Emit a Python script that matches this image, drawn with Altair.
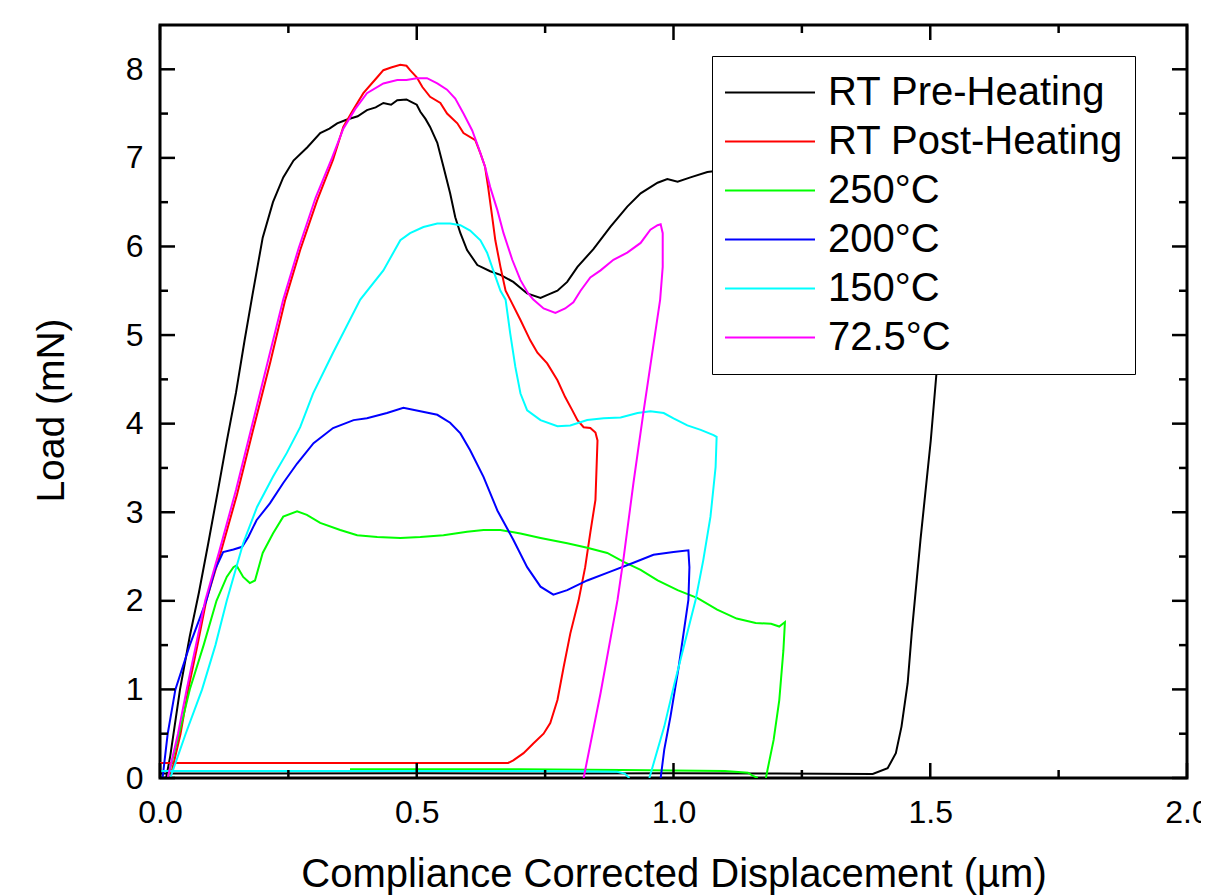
import altair as alt
import pandas as pd

FONT = "Liberation Sans"

series_names = ["RT Pre-Heating", "RT Post-Heating", "250°C", "200°C", "150°C", "72.5°C"]
series_colors = ["#000000", "#ff0000", "#00ff00", "#0000ff", "#00ffff", "#ff00ff"]

# RT Pre-Heating (black): load, unload, baseline
pre_x = [0.012, 0.02, 0.039, 0.058, 0.076, 0.094, 0.113, 0.13, 0.148, 0.165, 0.18, 0.2, 0.22, 0.24,
         0.26, 0.287, 0.312, 0.33, 0.345, 0.363, 0.385, 0.403, 0.42, 0.435, 0.45, 0.462, 0.48, 0.49,
         0.5, 0.507, 0.517, 0.526, 0.54, 0.552, 0.565, 0.575, 0.585, 0.598, 0.618, 0.643, 0.663,
         0.688, 0.715, 0.741, 0.757, 0.774, 0.793, 0.813, 0.844, 0.877, 0.91, 0.936, 0.969, 0.988,
         1.008, 1.033, 1.066, 1.15, 1.3, 1.45, 1.55, 1.546, 1.513, 1.501, 1.481, 1.47, 1.464, 1.456,
         1.444, 1.433, 1.417, 1.388, 1.2, 1.0, 0.8, 0.5, 0.2, 0.0]
pre_y = [0.0, 0.25, 1.0, 1.6, 2.1, 2.65, 3.25, 3.8, 4.35, 4.95, 5.45, 6.1, 6.5, 6.78,
         6.97, 7.12, 7.28, 7.33, 7.39, 7.43, 7.47, 7.54, 7.57, 7.62, 7.6, 7.65, 7.66, 7.63,
         7.6, 7.52, 7.44, 7.35, 7.17, 6.9, 6.6, 6.33, 6.15, 5.96, 5.79, 5.72, 5.68,
         5.6, 5.47, 5.42, 5.46, 5.5, 5.6, 5.77, 5.97, 6.22, 6.45, 6.6, 6.72, 6.76,
         6.73, 6.78, 6.84, 6.9, 6.95, 7.0, 7.02, 6.75, 4.63, 3.81, 2.69, 2.01, 1.64, 1.07,
         0.58, 0.28, 0.11, 0.045, 0.05, 0.055, 0.05, 0.055, 0.05, 0.05]

# RT Post-Heating (red)
post_x = [0.02, 0.04, 0.055, 0.073, 0.09, 0.117, 0.15, 0.18, 0.215, 0.244, 0.273, 0.306, 0.337,
          0.357, 0.376, 0.396, 0.423, 0.435, 0.45, 0.468, 0.48, 0.487, 0.5, 0.511, 0.526, 0.546,
          0.559, 0.579, 0.591, 0.614, 0.624, 0.633, 0.639, 0.647, 0.653, 0.663, 0.673, 0.682,
          0.702, 0.721, 0.735, 0.754, 0.774, 0.789, 0.803, 0.813, 0.825, 0.838, 0.848,
          0.852, 0.848, 0.838, 0.828, 0.815, 0.799, 0.786, 0.774, 0.76, 0.747, 0.727, 0.708,
          0.688, 0.678, 0.4, 0.0]
post_y = [0.0, 0.5, 1.0, 1.5, 2.0, 2.52, 3.2, 3.9, 4.7, 5.4, 5.96, 6.52, 6.98,
          7.35, 7.54, 7.73, 7.91, 7.99, 8.02, 8.05, 8.04, 7.99, 7.91, 7.8, 7.69, 7.62,
          7.5, 7.39, 7.28, 7.2, 7.05, 6.9, 6.67, 6.33, 6.07, 5.77, 5.5, 5.4,
          5.17, 4.94, 4.8, 4.68, 4.49, 4.3, 4.15, 4.04, 3.96, 3.95, 3.9,
          3.81, 3.14, 2.77, 2.38, 2.0, 1.63, 1.25, 0.88, 0.62, 0.5, 0.39, 0.28,
          0.2, 0.17, 0.17, 0.17]

# 250°C (green): load/unload, then baseline
g250_x = [0.015, 0.035, 0.058, 0.085, 0.11, 0.13, 0.143, 0.149, 0.162, 0.175, 0.185, 0.2, 0.22,
          0.24, 0.267, 0.286, 0.312, 0.351, 0.384, 0.423, 0.468, 0.507, 0.552, 0.598, 0.63,
          0.663, 0.702, 0.741, 0.793, 0.832, 0.871, 0.903, 0.936, 0.969, 1.008, 1.047, 1.085,
          1.123, 1.16, 1.19, 1.206, 1.217, 1.214, 1.206, 1.195, 1.183, 1.18]
g250_y = [0.0, 0.45, 1.0, 1.5, 2.0, 2.27, 2.38, 2.4, 2.27, 2.2, 2.23, 2.54, 2.76,
          2.95, 3.01, 2.97, 2.88, 2.8, 2.74, 2.72, 2.71, 2.72, 2.74, 2.78, 2.8,
          2.8, 2.76, 2.71, 2.65, 2.6, 2.54, 2.44, 2.35, 2.23, 2.12, 2.03, 1.9,
          1.8, 1.75, 1.74, 1.71, 1.76, 1.44, 0.88, 0.43, 0.09, 0.0]
g250_base_x = [1.164, 1.156, 1.145, 1.1, 0.9, 0.7, 0.5, 0.37]
g250_base_y = [0.0, 0.02, 0.06, 0.08, 0.09, 0.1, 0.1, 0.1]

# 200°C (blue)
g200_x = [0.005, 0.015, 0.03, 0.058, 0.09, 0.107, 0.123, 0.143, 0.16, 0.172, 0.188, 0.214, 0.24,
          0.267, 0.299, 0.337, 0.377, 0.403, 0.442, 0.474, 0.507, 0.54, 0.565, 0.585, 0.604,
          0.63, 0.657, 0.688, 0.715, 0.741, 0.766, 0.793, 0.832, 0.877, 0.922, 0.961, 1.0,
          1.029, 1.031, 1.029, 1.01, 0.994, 0.982, 0.975]
g200_y = [0.0, 0.5, 1.0, 1.5, 2.0, 2.35, 2.55, 2.58, 2.61, 2.72, 2.91, 3.1, 3.33,
          3.55, 3.78, 3.95, 4.04, 4.06, 4.12, 4.18, 4.14, 4.1, 4.01, 3.89, 3.7,
          3.4, 3.02, 2.69, 2.38, 2.16, 2.07, 2.12, 2.23, 2.33, 2.43, 2.52, 2.55,
          2.57, 2.38, 2.01, 1.25, 0.69, 0.32, 0.0]

# 150°C (cyan): load/unload, then baseline
g150_x = [0.02, 0.05, 0.082, 0.108, 0.13, 0.162, 0.189, 0.22, 0.247, 0.273, 0.298, 0.337, 0.39,
          0.435, 0.468, 0.487, 0.513, 0.54, 0.565, 0.585, 0.604, 0.624, 0.637, 0.649, 0.663,
          0.673, 0.682, 0.692, 0.702, 0.715, 0.741, 0.774, 0.799, 0.832, 0.864, 0.897, 0.93,
          0.955, 0.981, 1.0, 1.027, 1.053, 1.078, 1.084, 1.082, 1.072, 1.058, 1.043, 1.002,
          0.982, 0.963, 0.953]
g150_y = [0.0, 0.5, 1.0, 1.5, 2.0, 2.65, 3.06, 3.4, 3.67, 3.96, 4.34, 4.8, 5.4,
          5.73, 6.07, 6.15, 6.22, 6.26, 6.26, 6.24, 6.18, 6.07, 5.93, 5.73, 5.5,
          5.4, 5.02, 4.64, 4.34, 4.15, 4.04, 3.97, 3.98, 4.04, 4.06, 4.07, 4.12,
          4.14, 4.12, 4.06, 3.98, 3.93, 3.87, 3.85, 3.51, 2.95, 2.46, 2.01, 1.07,
          0.58, 0.2, 0.0]
g150_base_x = [0.914, 0.905, 0.89, 0.8, 0.6, 0.4, 0.2, 0.0]
g150_base_y = [0.0, 0.05, 0.07, 0.075, 0.08, 0.08, 0.08, 0.08]

# 72.5°C (magenta)
g72_x = [0.015, 0.035, 0.052, 0.07, 0.088, 0.115, 0.148, 0.178, 0.212, 0.24, 0.27, 0.303, 0.335,
         0.357, 0.38, 0.403, 0.435, 0.462, 0.48, 0.5, 0.52, 0.54, 0.559, 0.575, 0.591, 0.608,
         0.62, 0.633, 0.643, 0.657, 0.669, 0.686, 0.702, 0.717, 0.727, 0.747, 0.77, 0.789,
         0.805, 0.819, 0.838, 0.858, 0.883, 0.91, 0.936, 0.955, 0.969, 0.975, 0.979, 0.979,
         0.974, 0.942, 0.922, 0.903, 0.891, 0.858, 0.825]
g72_y = [0.0, 0.5, 1.0, 1.5, 2.0, 2.55, 3.25, 3.95, 4.75, 5.4, 5.98, 6.55, 7.0,
         7.33, 7.55, 7.73, 7.84, 7.88, 7.88, 7.9, 7.9, 7.84, 7.77, 7.67, 7.5, 7.31,
         7.12, 6.9, 6.67, 6.41, 6.15, 5.85, 5.62, 5.47, 5.4, 5.3, 5.25, 5.3,
         5.37, 5.5, 5.65, 5.73, 5.85, 5.93, 6.04, 6.19, 6.24, 6.25, 6.15, 5.77,
         5.4, 4.15, 3.33, 2.49, 2.01, 0.96, 0.0]

# axis tick values
x_major = [0.0, 0.5, 1.0, 1.5, 2.0]
x_minor = [0.25, 0.75, 1.25, 1.75]
y_major = [0, 1, 2, 3, 4, 5, 6, 7, 8]
y_minor = [0.5, 1.5, 2.5, 3.5, 4.5, 5.5, 6.5, 7.5]

X_TITLE = "Compliance Corrected Displacement (µm)"
Y_TITLE = "Load (mN)"

rows = []


def add(name, seg, xs, ys):
    for i, (a, b) in enumerate(zip(xs, ys)):
        rows.append({"series": name, "seg": name + "-" + seg, "i": i, "x": a, "y": b})


add(series_names[0], "a", pre_x, pre_y)
add(series_names[1], "a", post_x, post_y)
add(series_names[2], "a", g250_x, g250_y)
add(series_names[2], "b", g250_base_x, g250_base_y)
add(series_names[3], "a", g200_x, g200_y)
add(series_names[4], "a", g150_x, g150_y)
add(series_names[4], "b", g150_base_x, g150_base_y)
add(series_names[5], "a", g72_x, g72_y)
df = pd.DataFrame(rows)

W = 1027
H = 753
MAJ = 15
MIN = 8

xscale = alt.Scale(domain=[0, 2], nice=False, zero=False)
yscale = alt.Scale(domain=[0, 8.5], nice=False, zero=False)

xaxis = alt.Axis(values=x_major, format=".1f", ticks=False, tickSize=0, domain=False,
                 grid=False, labelFontSize=32, labelPadding=19, labelFlush=False,
                 labelFont=FONT, labelColor="black", titleFont=FONT, titleFontSize=40,
                 titleFontWeight="normal", titleColor="black", titleBaseline="alphabetic",
                 titleY=108)
yaxis = alt.Axis(values=y_major, format="d", ticks=False, tickSize=0, domain=False,
                 grid=False, labelFontSize=32, labelPadding=17, labelFont=FONT,
                 labelColor="black", titleFont=FONT, titleFontSize=39,
                 titleFontWeight="normal", titleColor="black", titleBaseline="alphabetic",
                 titleAngle=270, titleX=-97, titleY=385)

lines = alt.Chart(df).mark_line(strokeWidth=2, clip=True).encode(
    x=alt.X("x:Q", scale=xscale, title=X_TITLE, axis=xaxis),
    y=alt.Y("y:Q", scale=yscale, title=Y_TITLE, axis=yaxis),
    color=alt.Color("series:N", scale=alt.Scale(domain=series_names, range=series_colors),
                    legend=alt.Legend(orient="none", legendX=552, legendY=31, title=None,
                                      symbolType="stroke", symbolSize=8100, symbolStrokeWidth=2,
                                      labelFontSize=40, labelFont=FONT, labelColor="black",
                                      fillColor="white", strokeColor="black",
                                      padding=12, rowPadding=0, clipHeight=49, labelOffset=12,
                                      labelLimit=600)),
    detail="seg:N",
    order="i:Q",
)


def xticks(vals, length, top):
    d = pd.DataFrame({"v": vals})
    y0 = 0 if top else H
    y1 = length if top else H - length
    return alt.Chart(d).mark_rule(color="black", strokeWidth=2.5).encode(
        x=alt.X("v:Q", scale=xscale, title=X_TITLE, axis=xaxis),
        y=alt.value(y0), y2=alt.value(y1))


def yticks(vals, length, right):
    d = pd.DataFrame({"v": vals})
    x0 = W if right else 0
    x1 = W - length if right else length
    return alt.Chart(d).mark_rule(color="black", strokeWidth=2.5).encode(
        y=alt.Y("v:Q", scale=yscale, title=Y_TITLE, axis=yaxis),
        x=alt.value(x0), x2=alt.value(x1))


chart = alt.layer(
    lines,
    xticks(x_major, MAJ, False), xticks(x_minor, MIN, False),
    xticks(x_major, MAJ, True), xticks(x_minor, MIN, True),
    yticks(y_major, MAJ, False), yticks(y_minor, MIN, False),
    yticks(y_major, MAJ, True), yticks(y_minor, MIN, True),
).properties(
    width=W, height=H,
    autosize=alt.AutoSizeParams(type="none"),
    padding={"left": 152, "top": 17, "right": 14, "bottom": 118},
    background="white",
).configure_view(stroke="black", strokeWidth=3)

chart.save("out.html", embed_options={"renderer": "svg", "actions": False})
